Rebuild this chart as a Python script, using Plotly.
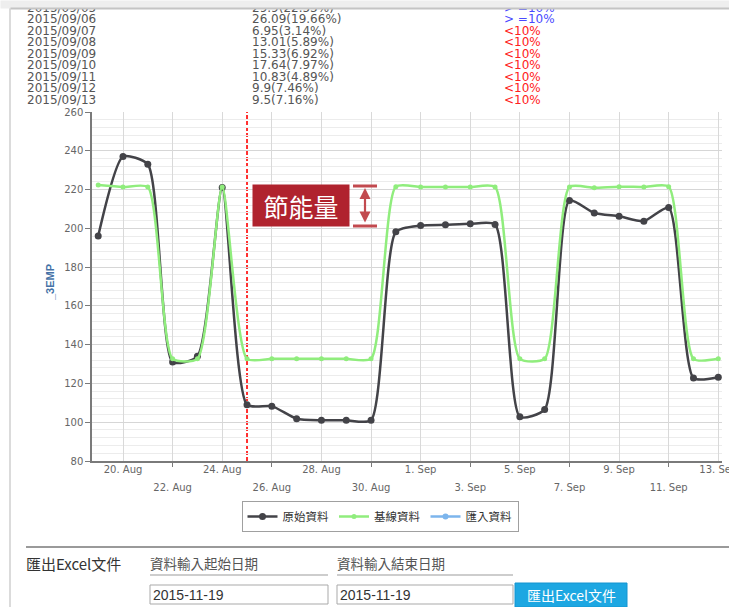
import plotly.graph_objects as go

# ---------------- data ----------------
dates = ["2015-08-19", "2015-08-20", "2015-08-21", "2015-08-22", "2015-08-23", "2015-08-24",
         "2015-08-25", "2015-08-26", "2015-08-27", "2015-08-28", "2015-08-29", "2015-08-30",
         "2015-08-31", "2015-09-01", "2015-09-02", "2015-09-03", "2015-09-04", "2015-09-05",
         "2015-09-06", "2015-09-07", "2015-09-08", "2015-09-09", "2015-09-10", "2015-09-11",
         "2015-09-12", "2015-09-13"]
raw_values = [196, 237, 233, 131, 134, 221, 109, 108.3, 101.8, 101, 101, 101,
              198.2, 201.4, 201.8, 202.3, 202, 102.8, 106.6, 214.4, 207.9, 206.2,
              203.7, 210.7, 122.8, 123.2]
baseline_values = [222.3, 221.3, 221.3, 132.7, 132.7, 221.3, 132.7, 132.7, 132.7, 132.7,
                   132.7, 132.7, 221.5, 221.3, 221.3, 221.3, 221.3, 132.7, 132.7, 221.3,
                   220.9, 221.5, 221.3, 221.5, 132.7, 132.7]
import_dates = [None]
import_values = [None]

tick_dates_a = ["2015-08-20", "2015-08-24", "2015-08-28", "2015-09-01", "2015-09-05",
                "2015-09-09", "2015-09-13"]
tick_text_a = ["20. Aug", "24. Aug", "28. Aug", "1. Sep", "5. Sep", "9. Sep", "13. Sep"]
tick_dates_b = ["2015-08-22", "2015-08-26", "2015-08-30", "2015-09-03", "2015-09-07",
                "2015-09-11"]
tick_text_b = ["22. Aug", "26. Aug", "30. Aug", "3. Sep", "7. Sep", "11. Sep"]

table_dates = ["2015/09/05", "2015/09/06", "2015/09/07", "2015/09/08", "2015/09/09",
               "2015/09/10", "2015/09/11", "2015/09/12", "2015/09/13"]
table_saving = ["29.9(22.53%)", "26.09(19.66%)", "6.95(3.14%)", "13.01(5.89%)", "15.33(6.92%)",
                "17.64(7.97%)", "10.83(4.89%)", "9.9(7.46%)", "9.5(7.16%)"]
table_status = ["&gt; =10%", "&gt; =10%", "&lt;10%", "&lt;10%", "&lt;10%", "&lt;10%",
                "&lt;10%", "&lt;10%", "&lt;10%"]

x_range = ["2015-08-18 18:00", "2015-09-13 03:36"]
y_range = [80, 260]
marker_line_date = "2015-08-25"

# ---------------- layout helpers (pixel -> paper) ----------------
# the page viewer renders the figure 15 px narrower than the requested width
W_VIEW, H = 729, 607
W_REQ = W_VIEW + 15
L, R, T, B = 92, 7, 112, 146
PW, PH = W_VIEW - L - R, H - T - B


def X(px):
    return (px - L) / PW


def Y(py):
    return (H - B - py) / PH


CJK = "Noto Sans CJK TC"
AX_FONT = dict(family="DejaVu Sans", size=10, color="#666666")
SMOOTH = 0.6

fig = go.Figure()
fig.add_trace(go.Scatter(
    x=dates, y=raw_values, name="原始資料", mode="lines+markers",
    line=dict(color="#434348", width=2.5, shape="spline", smoothing=SMOOTH),
    marker=dict(size=7, color="#434348")))
fig.add_trace(go.Scatter(
    x=dates, y=baseline_values, name="基線資料", mode="lines+markers",
    line=dict(color="#90ed7d", width=2.5, shape="spline", smoothing=SMOOTH),
    marker=dict(size=5, color="#90ed7d")))
fig.add_trace(go.Scatter(
    x=import_dates, y=import_values, name="匯入資料", mode="lines+markers",
    xaxis="x2", showlegend=True,
    line=dict(color="#7cb5ec", width=2.5), marker=dict(size=6, color="#7cb5ec")))

fig.update_layout(
    width=W_REQ, height=H, autosize=False,
    margin=dict(l=L, r=R, t=T, b=B, pad=0),
    paper_bgcolor="white", plot_bgcolor="white",
    xaxis=dict(type="date", range=x_range, tickmode="array", tickvals=tick_dates_a,
               ticktext=tick_text_a, showgrid=True, gridcolor="#d9d9d9", gridwidth=1,
               showline=True, linecolor="#7a7a7a", linewidth=1.5, ticks="",
               tickfont=AX_FONT, ticklabeloverflow="allow", zeroline=False,
               ticklabelstandoff=-2),
    xaxis2=dict(type="date", range=x_range, overlaying="x", anchor="y", side="bottom",
                tickmode="array", tickvals=tick_dates_b, ticktext=tick_text_b,
                showgrid=True, gridcolor="#d9d9d9", gridwidth=1, showline=False,
                ticks="outside", ticklen=5, tickcolor="#7a7a7a", tickwidth=1,
                tickfont=AX_FONT, ticklabeloverflow="allow", zeroline=False,
                ticklabelstandoff=12),
    yaxis=dict(range=y_range, tickmode="linear", tick0=80, dtick=20,
               showgrid=True, gridcolor="#d6d6d6", gridwidth=1,
               minor=dict(dtick=4, tick0=80, showgrid=True, gridcolor="#ececec", gridwidth=1),
               showline=True, linecolor="#7a7a7a", linewidth=1.5,
               ticks="outside", ticklen=5, tickcolor="#7a7a7a",
               tickfont=AX_FONT, zeroline=False),
    legend=dict(orientation="h", x=X(380), xanchor="center", y=Y(501), yanchor="top",
                bordercolor="#a0a0a0", borderwidth=1, bgcolor="white",
                font=dict(family=CJK, size=11.5, color="#333333"),
                itemwidth=30, tracegroupgap=0),
    showlegend=True,
)

shapes = []
annotations = []

# red dashed marker line
shapes.append(dict(type="line", xref="x", yref="paper", x0=marker_line_date, x1=marker_line_date,
                   y0=0, y1=1, line=dict(color="#ff3030", width=2, dash="4px,2px"),
                   layer="between"))

# energy-saving arrow caps
ARROW_C = "#C24A4F"
for py in (186, 226):
    shapes.append(dict(type="line", xref="paper", yref="paper", x0=X(353), x1=X(377),
                       y0=Y(py), y1=Y(py), line=dict(color=ARROW_C, width=3)))
annotations.append(dict(xref="paper", yref="paper", x=X(365), y=Y(188), ax=0, ay=36,
                        axref="pixel", ayref="pixel", text="", showarrow=True,
                        arrowside="end+start", arrowhead=2, arrowsize=1, arrowwidth=2.2,
                        arrowcolor=ARROW_C, standoff=0, startstandoff=0))
annotations.append(dict(xref="paper", yref="paper", x=X(301), y=Y(205.5), text="節能量",
                        showarrow=False, font=dict(family=CJK, size=25, color="white"),
                        bgcolor="#B0232E", width=90, height=35, borderpad=3,
                        xanchor="center", yanchor="middle"))

# y axis title
annotations.append(dict(xref="paper", yref="paper", x=X(50), y=Y(283), text="_3EMP",
                        textangle=-90, showarrow=False,
                        font=dict(family="Liberation Sans", size=11, color="#4572A7",
                                  weight="bold"),
                        xanchor="center", yanchor="middle"))

# ---- top table rows ----
row_y0, row_step = 7.5, 11.55
for i, (d, s, st) in enumerate(zip(table_dates, table_saving, table_status)):
    yy = Y(row_y0 + i * row_step)
    tf = dict(family="DejaVu Sans", size=12, color="#555555")
    annotations.append(dict(xref="paper", yref="paper", x=X(25), y=yy, text=d, showarrow=False,
                            xanchor="left", yanchor="middle", font=tf))
    annotations.append(dict(xref="paper", yref="paper", x=X(250), y=yy, text=s, showarrow=False,
                            xanchor="left", yanchor="middle", font=tf))
    col = "#4a4aff" if "gt" in st else "#ff2020"
    annotations.append(dict(xref="paper", yref="paper", x=X(502), y=yy, text=st, showarrow=False,
                            xanchor="left", yanchor="middle",
                            font=dict(family="DejaVu Sans", size=12, color=col)))

# top grey band covering the cut row, and its border line
annotations.append(dict(xref="paper", yref="paper", x=X(0), y=Y(0), xanchor="left",
                        yanchor="top", text=" ", showarrow=False, width=W_REQ, height=7,
                        bgcolor="#eeeeee", borderpad=0, font=dict(size=2)))
annotations.append(dict(xref="paper", yref="paper", x=X(10), y=Y(7), xanchor="left",
                        yanchor="top", text=" ", showarrow=False, width=W_REQ - 10, height=1,
                        bgcolor="#c4c4c4", borderpad=0, font=dict(size=1)))

# left page border
shapes.append(dict(type="line", xref="paper", yref="paper", x0=X(10), x1=X(10), y0=Y(8),
                   y1=Y(607), line=dict(color="#cfcfcf", width=1.5)))

# ---- bottom export form ----
shapes.append(dict(type="line", xref="paper", yref="paper", x0=X(26), x1=X(W_VIEW), y0=Y(547),
                   y1=Y(547), line=dict(color="#9a9a9a", width=2)))
annotations.append(dict(xref="paper", yref="paper", x=X(24), y=Y(563), text="匯出Excel文件",
                        showarrow=False, xanchor="left", yanchor="middle",
                        font=dict(family=CJK, size=15, color="#333333")))
for xl, xr, label in ((150, 328, "資料輸入起始日期"), (337, 513, "資料輸入結束日期")):
    annotations.append(dict(xref="paper", yref="paper", x=X(xl - 2), y=Y(563), text=label,
                            showarrow=False, xanchor="left", yanchor="middle",
                            font=dict(family=CJK, size=13.5, color="#555555")))
    shapes.append(dict(type="line", xref="paper", yref="paper", x0=X(xl), x1=X(xr),
                       y0=Y(575), y1=Y(575), line=dict(color="#bdbdbd", width=1.5)))
    shapes.append(dict(type="rect", xref="paper", yref="paper", x0=X(xl), x1=X(xr),
                       y0=Y(585), y1=Y(604), line=dict(color="#a9a9a9", width=1),
                       fillcolor="white"))
    annotations.append(dict(xref="paper", yref="paper", x=X(xl + 1), y=Y(595),
                            text="2015-11-19", showarrow=False, xanchor="left",
                            yanchor="middle",
                            font=dict(family="Liberation Sans", size=14, color="#333333")))

shapes.append(dict(type="rect", xref="paper", yref="paper", x0=X(515), x1=X(627), y0=Y(583),
                   y1=Y(607), line=dict(color="#1594d0", width=1), fillcolor="#1DA7E2"))
annotations.append(dict(xref="paper", yref="paper", x=X(571), y=Y(595), text="匯出Excel文件",
                        showarrow=False, xanchor="center", yanchor="middle",
                        font=dict(family=CJK, size=14, color="white")))

fig.update_layout(shapes=shapes, annotations=annotations)
post = ("document.documentElement.style.overflow='hidden';"
        "document.body.style.overflow='hidden';"
        "document.body.style.margin='0';")
fig.write_html("out.html",
               config={"displayModeBar": False, "responsive": False},
               post_script=post)
